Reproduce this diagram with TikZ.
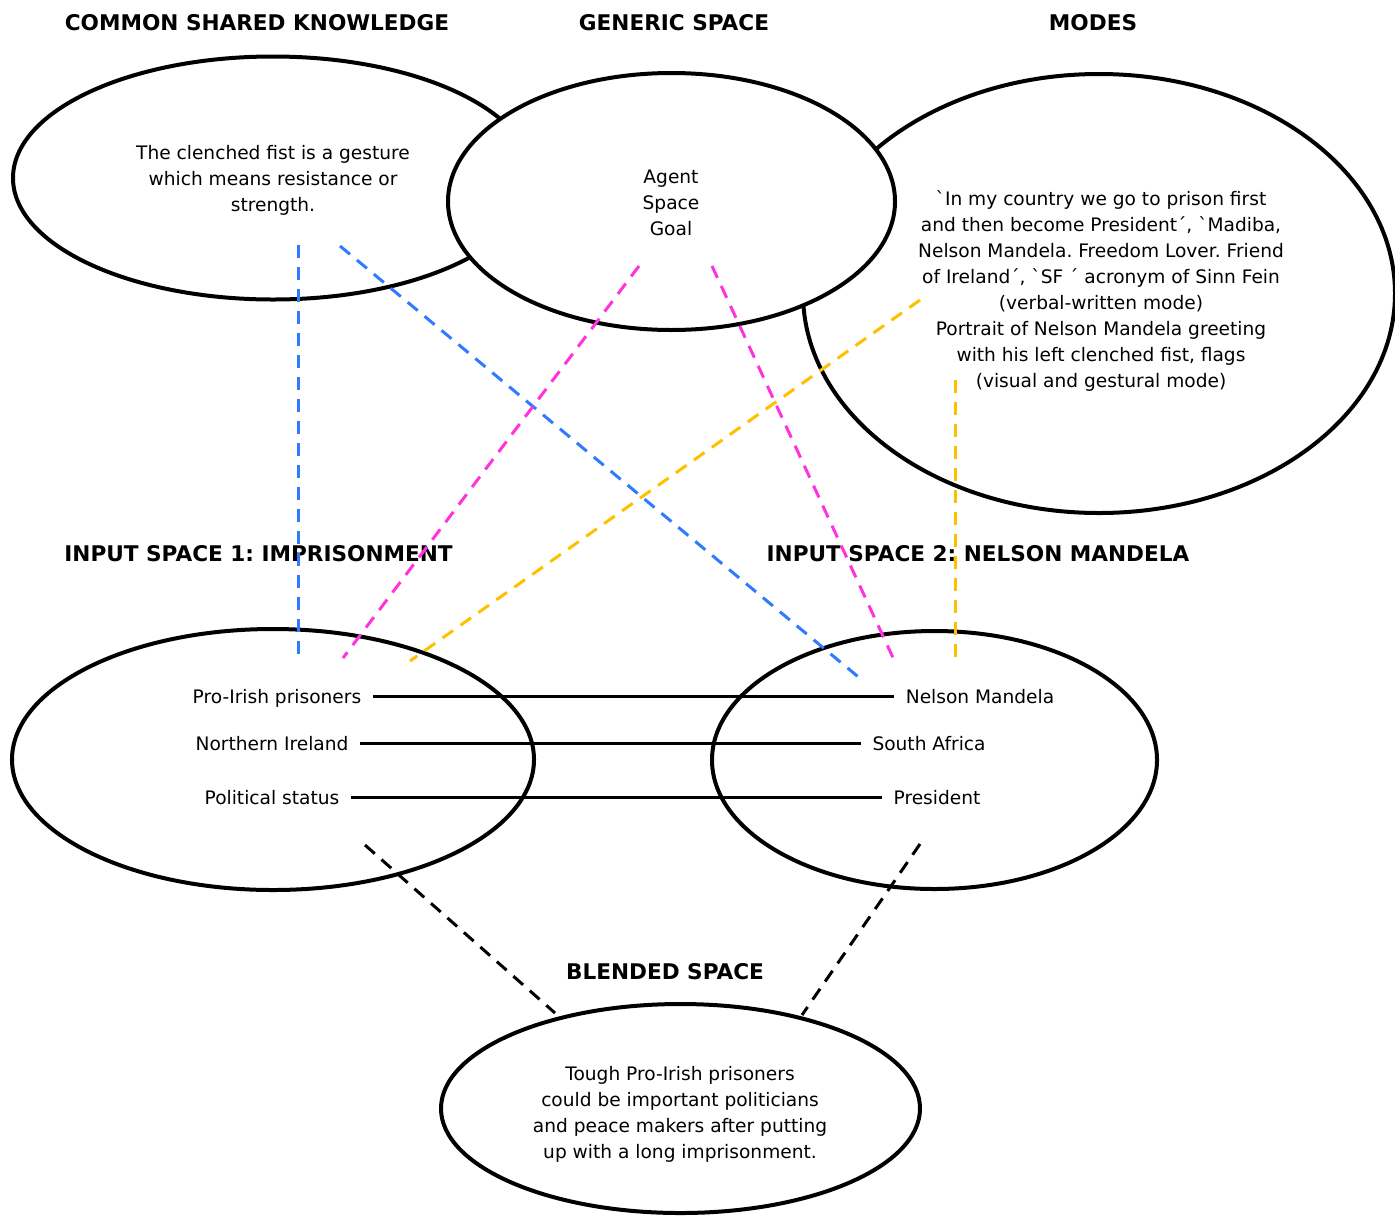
\documentclass[tikz,border=0pt]{standalone}
\usepackage{fontspec}
\setmainfont{DejaVu Sans}[Ligatures=TeXOff]
\usetikzlibrary{shapes.geometric}
\definecolor{dblue}{HTML}{2F7BFF}
\definecolor{dmag}{HTML}{FF33DD}
\definecolor{dyel}{HTML}{FFC000}
\tikzset{
  space/.style={ellipse, draw, line width=2pt, fill=white, inner sep=0pt, align=center,
     font=\fontsize{9.3}{13}\selectfont\frenchspacing},
  body/.style={inner sep=0pt, align=center, font=\fontsize{9.3}{13}\selectfont\frenchspacing},
  header/.style={font=\fontsize{10.8}{13}\selectfont\bfseries\frenchspacing, inner sep=0pt},
  lbl/.style={font=\fontsize{9.3}{12.85}\selectfont, inner sep=0pt, outer sep=6pt,
     text height=8pt, text depth=1pt},
  link/.style={line width=1.5pt},
  dline/.style={line width=1.5pt, dash pattern=on 6.5pt off 4.5pt},
}
\begin{document}
\begin{tikzpicture}[x=0.5pt, y=-0.5pt]
\useasboundingbox (0,0) rectangle (1395,1216);
% headers
\node[header] (hcsk) at (257,23) {COMMON SHARED KNOWLEDGE};
\node[header] (hgen) at (674,23) {GENERIC SPACE};
\node[header] (hmod) at (1093,23) {MODES};
\node[header, anchor=west] (hin1) at (64,554) {INPUT SPACE 1: IMPRISONMENT};
\node[header] (hin2) at (978,554) {INPUT SPACE 2: NELSON MANDELA};
\node[header] (hbl) at (665,972) {BLENDED SPACE};
% top ellipses
\node[space, minimum width=260pt, minimum height=121.5pt] (csk) at (273,178) {};
\node[body] (csktxt) at (273,180)
  {The clenched fist is a gesture\\which means resistance or\\strength.};
\node[space, minimum width=296pt, minimum height=219.5pt] (modes) at (1099,293.5) {};
\node[body] (modestxt) at (1101,291)
  {\symbol{96}In my country we go to prison first\\and then become President´, \symbol{96}Madiba,\\Nelson Mandela. Freedom Lover. Friend\\of Ireland´, \symbol{96}SF ´ acronym of Sinn Fein\\(verbal-written mode)\\Portrait of Nelson Mandela greeting\\with his left clenched fist, flags\\(visual and gestural mode)};
\node[space, minimum width=223.5pt, minimum height=128.5pt] (gen) at (671.5,201.5) {};
\node[body] (gentxt) at (671,203) {Agent\\Space\\Goal};
% input spaces
\node[space, minimum width=261pt, minimum height=130.5pt] (in1) at (273,759.5) {};
\node[space, minimum width=222.5pt, minimum height=129pt] (in2) at (934.5,760) {};
\node[space, minimum width=239.5pt, minimum height=104.5pt] (bl) at (680.5,1108.5) {};
\node[body] (bltxt) at (680,1114)
  {Tough Pro-Irish prisoners\\could be important politicians\\and peace makers after putting\\up with a long imprisonment.};
% labels
\node[lbl] (pip) at (277,696) {Pro-Irish prisoners};
\node[lbl] (ni) at (272,743) {Northern Ireland};
\node[lbl] (ps) at (272,797) {Political status};
\node[lbl] (nm) at (980,696) {Nelson Mandela};
\node[lbl] (sa) at (929,743) {South Africa};
\node[lbl] (pr) at (937,797) {President};
\draw[link] (pip.east) -- (nm.west);
\draw[link] (ni.east) -- (sa.west);
\draw[link] (ps.east) -- (pr.west);
% dashed connector end points
\coordinate (b1a) at (298,245);  \coordinate (b1b) at (298,656);
\coordinate (b2a) at (340,246);  \coordinate (b2b) at (862,680);
\coordinate (m1a) at (639,266);  \coordinate (m1b) at (343,658);
\coordinate (m2a) at (712,266);  \coordinate (m2b) at (895,662);
\coordinate (y1a) at (920,300);  \coordinate (y1b) at (410,661);
\coordinate (y2a) at (955,380);  \coordinate (y2b) at (955,662);
\coordinate (k1a) at (365,845);  \coordinate (k1b) at (555,1013);
\coordinate (k2a) at (920,844);  \coordinate (k2b) at (802,1015);
\draw[dline, dblue] (b1a) -- (b1b);
\draw[dline, dblue] (b2a) -- (b2b);
\draw[dline, dmag] (m1a) -- (m1b);
\draw[dline, dmag] (m2a) -- (m2b);
\draw[dline, dyel] (y1a) -- (y1b);
\draw[dline, dyel] (y2a) -- (y2b);
\draw[dline, black] (k1a) -- (k1b);
\draw[dline, black] (k2a) -- (k2b);
\end{tikzpicture}
\end{document}
